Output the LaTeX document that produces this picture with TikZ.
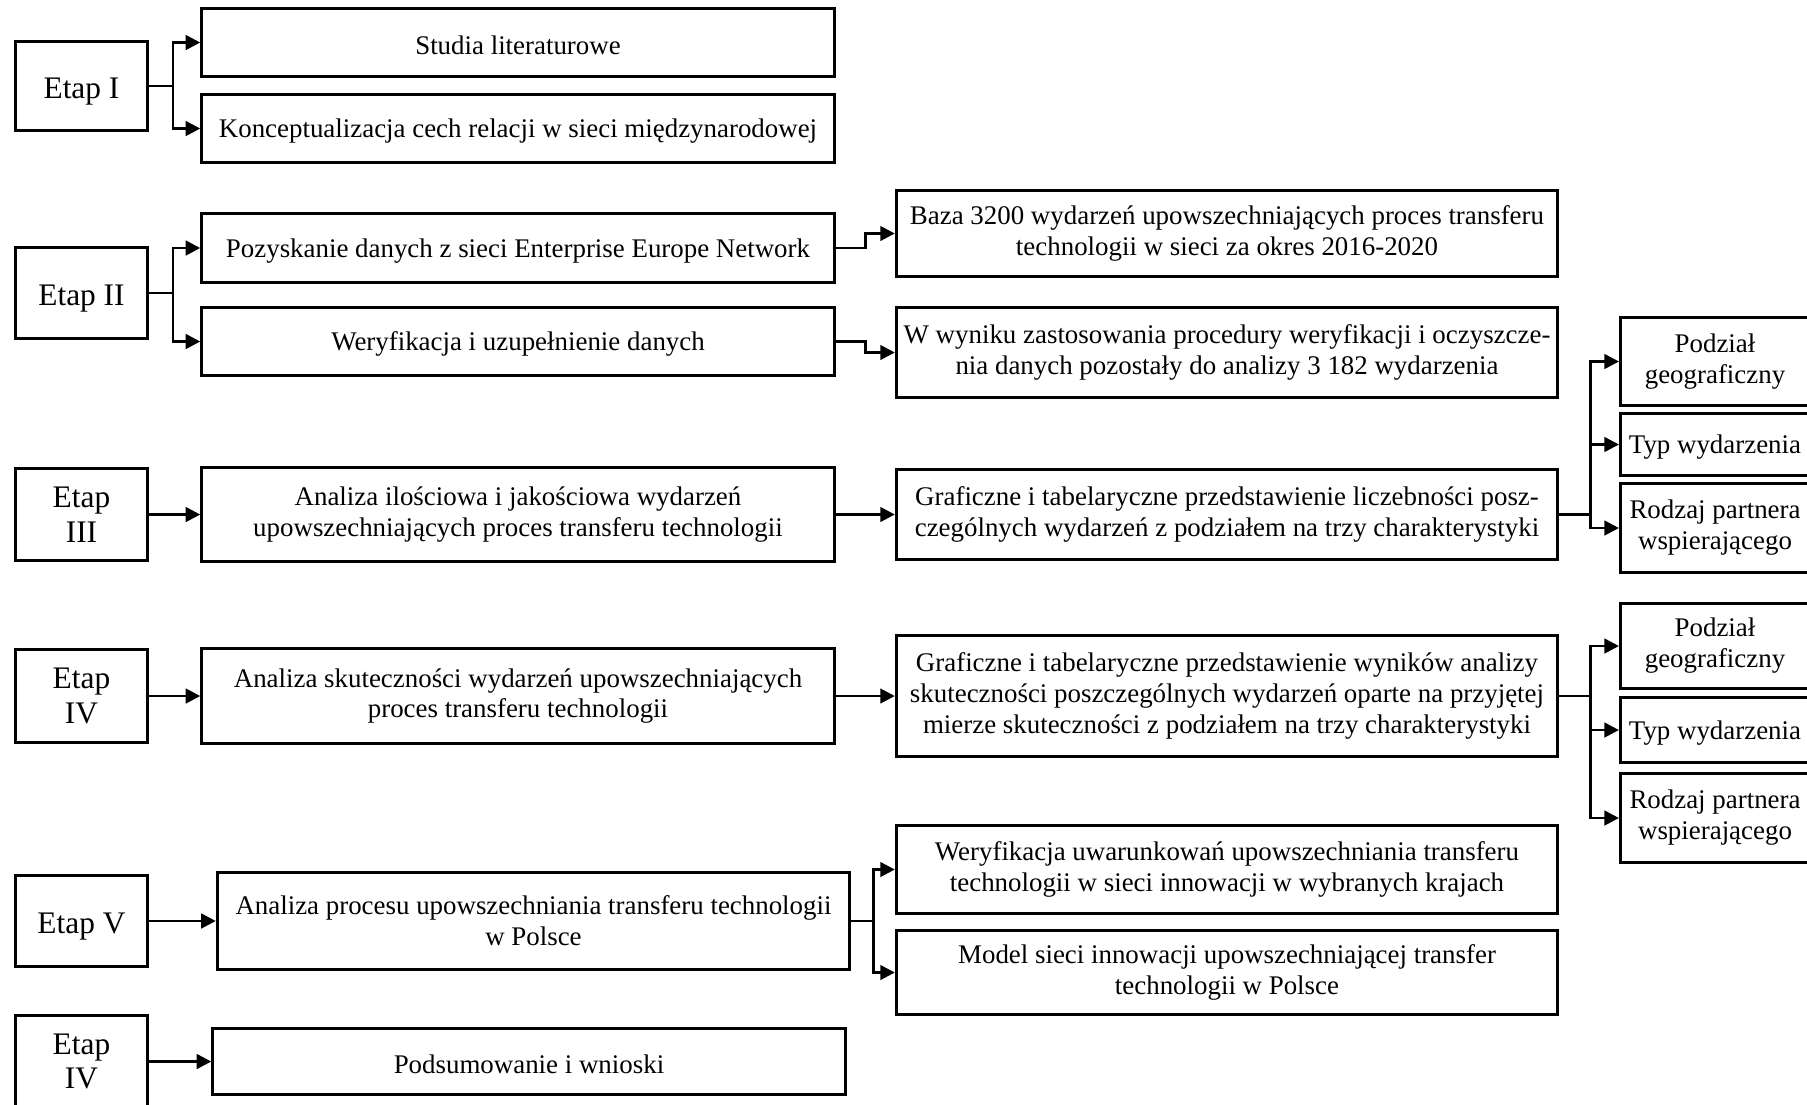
\documentclass[tikz,border=0pt]{standalone}
\usepackage{fontspec}
\setmainfont{Liberation Serif}
\usetikzlibrary{arrows.meta}

\begin{document}
\begin{tikzpicture}[x=1.568cm,y=1.568cm,
  every node/.style={font=\fontsize{12}{13.8}\selectfont, align=center, execute at begin node={\rule{0pt}{11pt}}},
  etapbox/.style={draw, line width=1.3pt, minimum width=59.1pt, inner sep=2pt, font=\fontsize{14}{15.5}\selectfont, execute at begin node={\rule{0pt}{14pt}}},
  midbox/.style={draw, line width=1.3pt, minimum width=282.2pt, inner sep=2pt},
  widebox/.style={draw, line width=1.3pt, minimum width=295.1pt, inner sep=2pt},
  sidebox/.style={draw, line width=1.3pt, minimum width=84.4pt, inner sep=2pt},
  ln/.style={line width=1.2pt},
  arr/.style={line width=1.2pt, -{Triangle[length=6.5pt,width=6.5pt]}}]
      \path[use as bounding box, clip] (0,0) rectangle (18.07,-11.04);

      % Etap I
      \node[etapbox, minimum height=40pt] (e1) at (0.815,-0.86) {Etap I};
      \node[midbox, minimum height=30.7pt] (a1) at (5.18,-0.425) {Studia literaturowe};
      \node[midbox, minimum height=30.2pt] (a2) at (5.18,-1.285) {Konceptualizacja cech relacji w sieci międzynarodowej};
      \coordinate (j1) at (1.73,-0.86);
      \draw[ln] (e1) -- (j1);
      \foreach \n in {a1,a2} {
      	\draw[arr] (j1) |- (\n);
      }

      % Etap II
      \node[etapbox, minimum height=40.9pt] (e2) at (0.815,-2.93) {Etap II};
      \node[midbox, minimum height=31.1pt] (b1) at (5.18,-2.48) {Pozyskanie danych z sieci Enterprise Europe Network};
      \node[midbox, minimum height=30.7pt] (b2) at (5.18,-3.415) {Weryfikacja i uzupełnienie danych};
      \node[widebox, minimum height=38.7pt] (b3) at (12.27,-2.335) {Baza 3200 wydarzeń upowszechniających proces transferu\\technologii w sieci za okres 2016-2020};
      \node[widebox, minimum height=40.4pt] (b4) at (12.27,-3.525) {W wyniku zastosowania procedury weryfikacji i oczyszcze-\\nia danych pozostały do analizy 3 182 wydarzenia};
      \coordinate (j2) at (1.73,-2.93);
      \draw[ln] (e2) -- (j2);
      \foreach \n in {b1,b2} {
      	\draw[arr] (j2) |- (\n);
      }
      \draw[arr] (b1.east) -- ++(0.30,0) |- (b3);
      \draw[arr] (b2.east) -- ++(0.30,0) |- (b4);

      % Etap III
      \node[etapbox, minimum height=41.3pt] (e3) at (0.815,-5.145) {Etap\\III};
      \node[midbox, minimum height=42.2pt] (c1) at (5.18,-5.145) {Analiza ilościowa i jakościowa wydarzeń\\upowszechniających proces transferu technologii};
      \node[widebox, minimum height=40.4pt] (c2) at (12.27,-5.145) {Graficzne i tabelaryczne przedstawienie liczebności posz-\\czególnych wydarzeń z podziałem na trzy charakterystyki};
      \node[sidebox, minimum height=39.6pt] (c3) at (17.15,-3.615) {Podział\\geograficzny};
      \node[sidebox, minimum height=28pt] (c4) at (17.15,-4.445) {Typ wydarzenia};
      \node[sidebox, minimum height=40pt] (c5) at (17.15,-5.28) {Rodzaj partnera\\wspierającego};
      \draw[arr] (e3) -- (c1);
      \draw[arr] (c1) -- (c2);
      \draw[ln] (c2.east) -- ++(0.31,0) coordinate (j3);
      \foreach \n in {c3,c4,c5} {
      	\draw[arr] (j3) |- (\n);
      }

      % Etap IV
      \node[etapbox, minimum height=41.3pt] (e4) at (0.815,-6.96) {Etap\\IV};
      \node[midbox, minimum height=42.7pt] (d1) at (5.18,-6.96) {Analiza skuteczności wydarzeń upowszechniających\\proces transferu technologii};
      \node[widebox, minimum height=53.8pt] (d2) at (12.27,-6.96) {Graficzne i tabelaryczne przedstawienie wyników analizy\\skuteczności poszczególnych wydarzeń oparte na przyjętej\\mierze skuteczności z podziałem na trzy charakterystyki};
      \node[sidebox, minimum height=38.2pt] (d3) at (17.15,-6.46) {Podział\\geograficzny};
      \node[sidebox, minimum height=29.3pt] (d4) at (17.15,-7.30) {Typ wydarzenia};
      \node[sidebox, minimum height=40pt] (d5) at (17.15,-8.18) {Rodzaj partnera\\wspierającego};
      \draw[arr] (e4) -- (d1);
      \draw[arr] (d1) -- (d2);
      \draw[ln] (d2.east) -- ++(0.31,0) coordinate (j4);
      \foreach \n in {d3,d4,d5} {
      	\draw[arr] (j4) |- (\n);
      }

      % Etap V
      \node[etapbox, minimum height=40.9pt] (e5) at (0.815,-9.21) {Etap V};
      \node[midbox, minimum height=43.6pt] (f1) at (5.335,-9.21) {Analiza procesu upowszechniania transferu technologii\\w Polsce};
      \node[widebox, minimum height=39.6pt] (f2) at (12.27,-8.695) {Weryfikacja uwarunkowań upowszechniania transferu\\technologii w sieci innowacji w wybranych krajach};
      \node[widebox, minimum height=37.8pt] (f3) at (12.27,-9.725) {Model sieci innowacji upowszechniającej transfer\\technologii w Polsce};
      \draw[arr] (e5) -- (f1);
      \draw[ln] (f1.east) -- ++(0.225,0) coordinate (j5);
      \foreach \n in {f2,f3} {
      	\draw[arr] (j5) |- (\n);
      }

      % Etap IV (ostatni)
      \node[etapbox, minimum height=41.3pt] (e6) at (0.815,-10.615) {Etap\\IV};
      \node[midbox, minimum height=29.8pt] (g1) at (5.29,-10.615) {Podsumowanie i wnioski};
      \draw[arr] (e6) -- (g1);

\end{tikzpicture}
\end{document}
